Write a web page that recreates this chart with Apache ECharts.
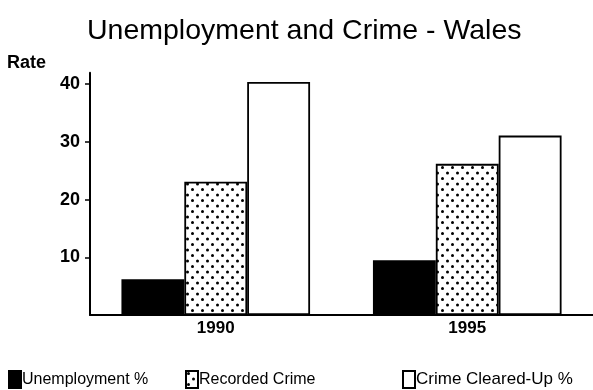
<!DOCTYPE html>
<html>
<head>
<meta charset="utf-8">
<script src="https://cdn.jsdelivr.net/npm/echarts@6/dist/echarts.min.js"></script>
<style>
  html, body { margin: 0; padding: 0; background: #fff; }
  #chart { width: 593px; height: 390px; }
</style>
</head>
<body>
<div id="chart"></div>
<script>
// Data
const years = ['1990', '1995'];
const unemployment = [6.2, 9.5];
const recordedCrime = [23.1, 26.2];
const clearedUp = [40.4, 31.1];
const seriesNames = ['Unemployment %', 'Recorded Crime', 'Crime Cleared-Up %'];
const rateTicks = [10, 20, 30, 40];

// Staggered dot fill for the recorded-crime bars
function dotPattern() {
  const c = document.createElement('canvas');
  c.width = 10; c.height = 11;
  const g = c.getContext('2d');
  g.fillStyle = '#fff';
  g.fillRect(0, 0, 10, 11);
  g.fillStyle = '#000';
  [[2.5, 2.5], [7.5, 8]].forEach(([x, y]) => {
    g.beginPath(); g.arc(x, y, 1.5, 0, Math.PI * 2); g.fill();
  });
  return { image: c, repeat: 'repeat' };
}

const font = '"Liberation Sans", Arial, Helvetica, sans-serif';
const chart = echarts.init(document.getElementById('chart'), null, { renderer: 'canvas' });

const barBase = { type: 'bar', barGap: '0%', barCategoryGap: '25%' };
function legendAt(left, name, size) {
  return {
    left: left, top: 370, padding: 0, itemWidth: 12, itemHeight: 17, icon: 'rect',
    data: [name],
    textStyle: { fontFamily: font, fontSize: size, color: '#000', padding: [0, 0, 0, -4] }
  };
}

chart.setOption({
  animation: false,
  backgroundColor: '#fff',
  title: [
    { text: 'Unemployment and Crime - Wales', left: 87, top: 17, padding: 0,
      textStyle: { fontFamily: font, fontSize: 28.5, fontWeight: 'normal', color: '#000' } },
    { text: 'Rate', left: 7, top: 54, padding: 0,
      textStyle: { fontFamily: font, fontSize: 18, fontWeight: 'bold', color: '#000' } }
  ],
  legend: [
    legendAt(8, seriesNames[0], 16),
    legendAt(185, seriesNames[1], 16),
    legendAt(402, seriesNames[2], 17)
  ],
  grid: { left: 90, right: 0, top: 72.7, bottom: 75, containLabel: false },
  xAxis: {
    type: 'category', data: years,
    axisLine: { lineStyle: { color: '#000', width: 2 } },
    axisTick: { show: false },
    axisLabel: { fontFamily: font, fontSize: 17, fontWeight: 'bold', color: '#000', margin: 5 }
  },
  yAxis: {
    type: 'value', min: 0, max: 42, interval: 10,
    axisLine: { show: true, lineStyle: { color: '#000', width: 2 } },
    axisTick: { show: true, length: 5, customValues: rateTicks,
      lineStyle: { color: '#000', width: 1.5 } },
    splitLine: { show: false },
    axisLabel: {
      fontFamily: font, fontSize: 18, fontWeight: 'bold', color: '#000', margin: 10,
      customValues: rateTicks
    }
  },
  series: [
    Object.assign({ name: seriesNames[0], data: unemployment,
      itemStyle: { color: '#000', borderColor: '#000', borderWidth: 1.8 } }, barBase),
    Object.assign({ name: seriesNames[1], data: recordedCrime,
      itemStyle: { color: dotPattern(), borderColor: '#000', borderWidth: 1.8 } }, barBase),
    Object.assign({ name: seriesNames[2], data: clearedUp,
      itemStyle: { color: '#fff', borderColor: '#000', borderWidth: 1.8 } }, barBase)
  ]
});
</script>
</body>
</html>
